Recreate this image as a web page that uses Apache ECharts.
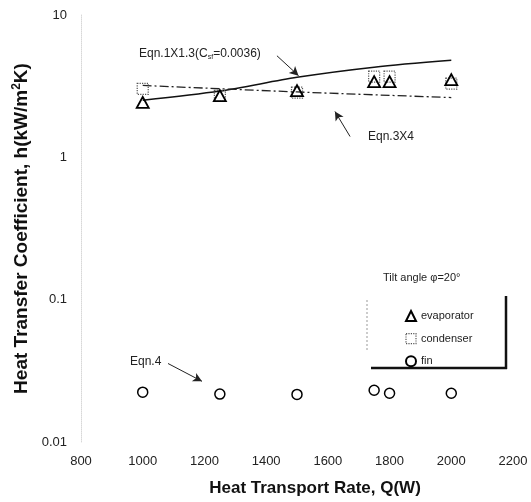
<!DOCTYPE html>
<html>
<head>
<meta charset="utf-8">
<script src="https://cdn.jsdelivr.net/npm/echarts@6/dist/echarts.min.js"></script>
<style>
  html, body { margin: 0; padding: 0; background: #fff; }
  #chart { width: 531px; height: 502px; }
</style>
</head>
<body>
<div id="chart"></div>
<script>
// measured points
const heatRate = [1000, 1250, 1500, 1750, 1800, 2000];
const evaporator = [2.43, 2.71, 2.94, 3.4, 3.4, 3.51];
const condenser = [3.03, 2.7, 2.85, 3.69, 3.69, 3.29];
const fin = [0.0224, 0.0217, 0.0216, 0.0231, 0.022, 0.022];

// correlation curves
const eqn1Q = [1000, 1250, 1500, 1750, 2000];
const eqn1H = [2.52, 2.92, 3.65, 4.3, 4.8];
const eqn34Q = [1000, 1500, 2000];
const eqn34H = [3.2, 2.88, 2.63];

// arrow endpoints for the annotations [from, to]
const arrowEqn1 = [[1435, 5.17], [1505, 3.75]];
const arrowEqn34 = [[1672, 1.4], [1623, 2.1]];
const arrowEqn4 = [[1082, 0.0356], [1192, 0.0267]];

const xTicks = { min: 800, max: 2200, interval: 200 };

const pairs = (xs, ys) => xs.map((x, i) => [x, ys[i]]);
const font = "'Liberation Sans', Arial, sans-serif";

const arrowLine = (pts) => ({
  silent: true,
  symbol: ["none", "arrow"],
  symbolSize: [7, 9],
  label: { show: false },
  lineStyle: { color: "#222", width: 1, type: "solid" },
  data: [[{ coord: pts[0] }, { coord: pts[1] }]],
});

const chart = echarts.init(document.getElementById("chart"), null, { renderer: "canvas" });

chart.setOption({
  backgroundColor: "#fff",
  animation: false,
  textStyle: { fontFamily: font },
  grid: { left: 81, right: 18, top: 15, bottom: 58 },
  xAxis: {
    type: "value",
    min: xTicks.min,
    max: xTicks.max,
    interval: xTicks.interval,
    name: "Heat Transport Rate, Q(W)",
    nameLocation: "middle",
    nameGap: 38,
    nameTextStyle: { fontSize: 17, fontWeight: "bold", color: "#111", padding: [0, 0, 0, 36] },
    axisLine: { show: false },
    axisTick: { show: false },
    splitLine: { show: false },
    axisLabel: { fontSize: 13, color: "#222", margin: 13, formatter: (v) => String(v) },
  },
  yAxis: {
    type: "log",
    logBase: 10,
    min: 0.01,
    max: 10,
    name: "Heat Transfer Coefficient, h(kW/m{sup|2}K)",
    nameLocation: "middle",
    nameGap: 48,
    nameTextStyle: {
      fontSize: 19, fontWeight: "bold", color: "#111",
      rich: { sup: { fontSize: 12, fontWeight: "bold", color: "#111", verticalAlign: "top", padding: [0, 0, 9, 0] } },
    },
    axisLine: { show: true, lineStyle: { color: "#d8d8d8", type: "dotted", width: 1 } },
    axisTick: { show: false },
    splitLine: { show: false },
    minorTick: { show: false },
    axisLabel: { fontSize: 13, color: "#222", margin: 14 },
  },
  legend: {
    orient: "vertical",
    left: 400,
    top: 305,
    itemWidth: 10,
    itemHeight: 10,
    itemGap: 11,
    data: [
      { name: "evaporator" },
      { name: "condenser", itemStyle: { borderType: "dotted", borderColor: "#555", borderWidth: 1.2 } },
      { name: "fin" },
    ],
    textStyle: { fontSize: 11, color: "#222" },
  },
  series: [
    {
      name: "Eqn.1X1.3",
      type: "line",
      data: pairs(eqn1Q, eqn1H),
      smooth: 0.3,
      showSymbol: false,
      lineStyle: { color: "#111", width: 1.5 },
      markLine: arrowLine(arrowEqn1),
      z: 1,
    },
    {
      name: "Eqn.3X4",
      type: "line",
      data: pairs(eqn34Q, eqn34H),
      smooth: 0.3,
      showSymbol: false,
      lineStyle: { color: "#222", width: 1.3, type: [9, 3, 2, 3] },
      markLine: arrowLine(arrowEqn34),
      z: 1,
    },
    {
      name: "condenser",
      type: "scatter",
      data: pairs(heatRate, condenser),
      symbol: "rect",
      symbolSize: 11,
      itemStyle: { color: "rgba(255,255,255,0)", borderColor: "#555", borderWidth: 1.2, borderType: "dotted", opacity: 1 },
      z: 3,
    },
    {
      name: "evaporator",
      type: "scatter",
      data: pairs(heatRate, evaporator),
      symbol: "triangle",
      symbolSize: [12, 11],
      itemStyle: { color: "rgba(255,255,255,0)", borderColor: "#000", borderWidth: 1.8, opacity: 1 },
      z: 4,
    },
    {
      name: "fin",
      type: "scatter",
      data: pairs(heatRate, fin),
      symbol: "circle",
      symbolSize: 10,
      itemStyle: { color: "rgba(255,255,255,0)", borderColor: "#000", borderWidth: 1.5, opacity: 1 },
      markLine: arrowLine(arrowEqn4),
      z: 4,
    },
  ],
  graphic: [
    {
      type: "text", left: 139, top: 48,
      style: {
        text: "Eqn.1X1.3(C{sub|sf}=0.0036)",
        font: "12px " + font, fill: "#222",
        rich: { sub: { fontSize: 7, fill: "#222", verticalAlign: "bottom", padding: [6, 0, 0, 0] } },
      },
    },
    { type: "text", left: 368, top: 131, style: { text: "Eqn.3X4", font: "12px " + font, fill: "#222" } },
    { type: "text", left: 130, top: 356, style: { text: "Eqn.4", font: "12px " + font, fill: "#222" } },
    { type: "text", left: 383, top: 272, style: { text: "Tilt angle φ=20°", font: "11px " + font, fill: "#222" } },
    // legend frame
    { type: "line", shape: { x1: 506, y1: 296, x2: 506, y2: 369 }, style: { stroke: "#111", lineWidth: 2.5 } },
    { type: "line", shape: { x1: 371, y1: 368, x2: 507, y2: 368 }, style: { stroke: "#111", lineWidth: 2.5 } },
    { type: "line", shape: { x1: 367, y1: 300, x2: 367, y2: 352 }, style: { stroke: "#999", lineWidth: 1, lineDash: [2, 2] } },
  ],
});
</script>
</body>
</html>
